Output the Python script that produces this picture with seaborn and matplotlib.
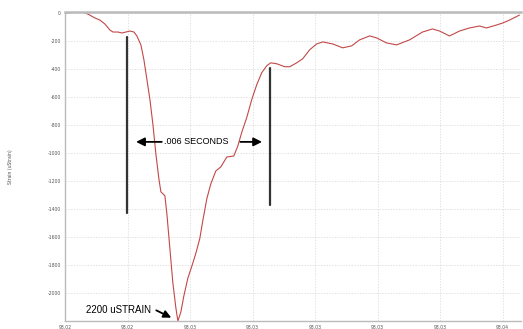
import matplotlib
matplotlib.use("Agg")
import matplotlib.pyplot as plt
import seaborn as sns
import pandas as pd
import numpy as np

# Strain gauge trace: time offset (ms after 93.02 s) and strain (uStrain)
time_ms = [0.000, 0.399, 0.719, 0.919, 1.198, 1.398, 1.597, 1.797, 1.917, 2.117,
           2.276, 2.436, 2.596, 2.756, 2.875, 3.035, 3.155, 3.275, 3.395, 3.514,
           3.634, 3.754, 3.834, 3.914, 3.994, 4.073, 4.193, 4.313, 4.433, 4.513,
           4.633, 4.752, 4.912, 5.072, 5.232, 5.391, 5.511, 5.671, 5.831, 6.030,
           6.230, 6.470, 6.750, 6.909, 7.069, 7.269, 7.468, 7.668, 7.867, 8.067,
           8.227, 8.467, 8.786, 8.986, 9.265, 9.505, 9.784, 10.064, 10.304, 10.703,
           11.103, 11.462, 11.781, 12.181, 12.460, 12.859, 13.259, 13.778, 14.297, 14.697,
           14.976, 15.375, 15.775, 16.174, 16.574, 16.853, 17.252, 17.492, 17.772, 18.171]
strain = [0, 7, 7, -7, -35, -50, -78, -121, -135, -135,
          -142, -135, -128, -135, -163, -227, -333, -475, -617, -794,
          -1007, -1184, -1277, -1291, -1305, -1433, -1681, -1929, -2106, -2200,
          -2135, -2021, -1894, -1808, -1716, -1610, -1482, -1326, -1220, -1128,
          -1099, -1028, -1021, -950, -851, -745, -617, -511, -426, -376,
          -355, -362, -383, -383, -355, -326, -262, -220, -206, -220,
          -248, -234, -191, -163, -177, -213, -227, -191, -135, -113,
          -128, -163, -128, -106, -92, -106, -85, -71, -50, -14]

x_ticks = [93.0200, 93.0225, 93.0250, 93.0275, 93.0300, 93.0325, 93.0350, 93.0375]
y_ticks = [0, -200, -400, -600, -800, -1000, -1200, -1400, -1600, -1800, -2000]

# Markers bounding the 0.006 s pulse and the peak
pulse_start, pulse_end = 93.02248, 93.02819
peak_value = -2200

df = pd.DataFrame({"time": [93.02 + m / 1000 for m in time_ms], "strain": strain})

sns.set_style("white")
fig = plt.figure(figsize=(5.23, 3.29), dpi=100)
ax = fig.add_axes([0.1243, 0.0243, 0.8717, 0.9392])

sns.lineplot(data=df, x="time", y="strain", ax=ax, color="#c24848", lw=0.8)

ax.set_xlim(93.02, 93.03823)
ax.set_ylim(-2200, 8)
ax.set_xticks(x_ticks)
ax.set_xticklabels([f"{v:.2f}" for v in x_ticks])
ax.set_yticks(y_ticks)
ax.set_yticklabels([f"{v}" for v in y_ticks])
ax.tick_params(axis="both", labelsize=3.3, colors="#555555", length=1.5, width=0.5, pad=1.5)
ax.grid(True, color="#d6d6d6", lw=0.5, ls=(0, (2, 2)))
ax.set_xlabel("")
ax.set_ylabel("Strain (uStrain)", fontsize=3.3, color="#555555", labelpad=25)

for side in ["left", "bottom"]:
    ax.spines[side].set_color("#bbbbbb")
    ax.spines[side].set_linewidth(1.0)
ax.spines["top"].set_color("#bbbbbb")
ax.spines["top"].set_linewidth(1.8)
ax.spines["right"].set_visible(False)

# Pulse duration bars and arrows
ax.plot([pulse_start, pulse_start], [-170, -1430], color="#333333", lw=1.6)
ax.plot([pulse_end, pulse_end], [-390, -1370], color="#333333", lw=1.6)
mid = -920
ax.annotate("", xy=(pulse_start + 0.00025, mid), xytext=(93.02398, mid),
            arrowprops=dict(arrowstyle="-|>,head_length=0.5,head_width=0.25", color="black", lw=1.3))
ax.annotate("", xy=(pulse_end - 0.00020, mid), xytext=(93.02690, mid),
            arrowprops=dict(arrowstyle="-|>,head_length=0.5,head_width=0.25", color="black", lw=1.3))
ax.text((pulse_start + pulse_end) / 2 - 0.0001, mid, ".006 SECONDS", fontsize=6.5,
        ha="center", va="center", color="black", family="Liberation Sans")

ax.text(93.02085, -2120, f"{-peak_value} uSTRAIN", fontsize=7, ha="left", va="center",
        color="black", family="Liberation Sans")
ax.annotate("", xy=(93.02435, -2185), xytext=(93.02355, -2115),
            arrowprops=dict(arrowstyle="-|>,head_length=0.45,head_width=0.22", color="black", lw=1.3))

fig.savefig("out.png", dpi=100)
